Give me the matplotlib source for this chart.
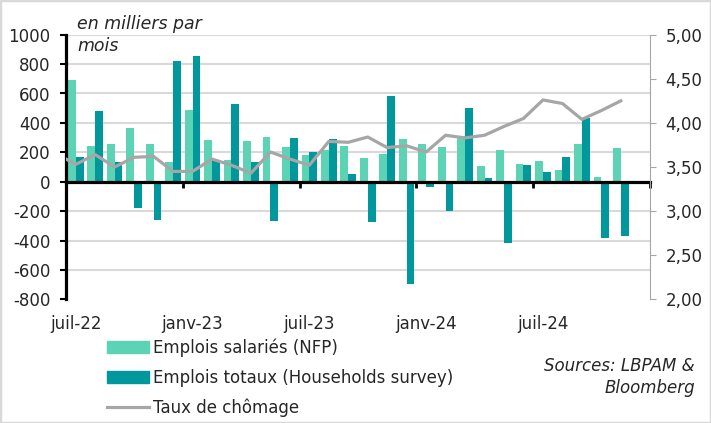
import numpy as np
import matplotlib
matplotlib.use('Agg')
import matplotlib.pyplot as plt
from matplotlib.patches import Rectangle
from matplotlib.lines import Line2D

# mois de juil-22 a dec-24 (le dernier mois est vide)
months = ['juil-22', 'août-22', 'sept-22', 'oct-22', 'nov-22', 'déc-22',
          'janv-23', 'févr-23', 'mars-23', 'avr-23', 'mai-23', 'juin-23',
          'juil-23', 'août-23', 'sept-23', 'oct-23', 'nov-23', 'déc-23',
          'janv-24', 'févr-24', 'mars-24', 'avr-24', 'mai-24', 'juin-24',
          'juil-24', 'août-24', 'sept-24', 'oct-24', 'nov-24', 'déc-24']

# emplois salariés (NFP), milliers
nfp = [690, 245, 259, 362, 259, 136, 485, 286, 149, 280, 307, 239, 184, 216,
       245, 164, 186, 293, 259, 239, 314, 109, 218, 123, 143, 82, 259, 34, 232]

# emplois totaux (households survey), milliers
households = [170, 478, 136, -176, -261, 820, 854, 149, 526, 136, -266, 300,
              205, 291, 55, -277, 586, -693, -35, -198, 498, 27, -420, 116,
              68, 170, 430, -380, -368]

# taux de chomage, commence en juin-22
rate_months = ['juin-22'] + months[:29]
chomage = [3.65, 3.53, 3.64, 3.50, 3.61, 3.62, 3.45, 3.45, 3.59, 3.52, 3.43,
           3.67, 3.59, 3.52, 3.79, 3.78, 3.84, 3.72, 3.74, 3.67, 3.86, 3.83,
           3.86, 3.96, 4.05, 4.26, 4.22, 4.04, 4.14, 4.25]

light = '#5dd3b6'
dark = '#00979d'
grey = '#a6a6a6'
txt = '#262626'

plt.rcParams['font.family'] = ['DejaVu Sans']
plt.rcParams['text.color'] = txt
plt.rcParams['axes.unicode_minus'] = False

W, H = 711, 423
fig = plt.figure(figsize=(W / 100, H / 100), dpi=100)
ax = fig.add_axes([66 / W, 1 - 299.3 / H, (650 - 66) / W, (299.3 - 34.7) / H])
ax2 = ax.twinx()

x = np.arange(len(nfp))
ax.bar(x - 0.2, nfp, 0.4, color=light, zorder=2)
ax.bar(x + 0.2, households, 0.4, color=dark, zorder=2)

ax.set_xlim(-0.5, len(months) - 0.5)
ax.set_ylim(-800, 1000)
ax.set_yticks(range(-800, 1001, 200))
ax.yaxis.grid(True, color='#d9d9d9', lw=1.5, zorder=0)
ax.get_ygridlines()[0].set_visible(False)
ax.set_axisbelow(True)

for s in ['top', 'right']:
    ax.spines[s].set_visible(False)
ax.spines['left'].set_linewidth(2.3)
ax.spines['bottom'].set_position(('data', 0))
ax.spines['bottom'].set_linewidth(2.3)
ax.spines['bottom'].set_zorder(3)

# petits traits tous les 6 mois sur la ligne du zero
ax.set_xticks(np.arange(-0.5, len(months), 6))
ax.tick_params(axis='x', length=4, width=2, direction='out', labelbottom=False)
ax.tick_params(axis='y', length=4.3, width=1.5, color='black', pad=7,
               labelsize=12, labelcolor=txt)

sec = ax.secondary_xaxis('bottom')
sec.set_xticks(x[::6], [months[i] for i in x[::6]])
sec.tick_params(length=0, pad=11, labelsize=12, labelcolor=txt)
sec.spines['bottom'].set_visible(False)

ax2.plot(np.arange(-1, len(chomage) - 1), chomage, color=grey, lw=2.3)
ax2.set_ylim(2, 5)
ax2.set_yticks(np.arange(2, 5.01, 0.5))
ax2.set_yticklabels(['{:.2f}'.format(v).replace('.', ',') for v in np.arange(2, 5.01, 0.5)])
for s in ['top', 'left', 'bottom']:
    ax2.spines[s].set_visible(False)
ax2.spines['right'].set_color(grey)
ax2.spines['right'].set_linewidth(0.8)
ax2.tick_params(axis='y', length=4.3, width=0.8, color=grey, pad=7,
                labelsize=12, labelcolor=txt)

fig.text(77 / W, 1 - 15 / H, 'en milliers par\nmois', style='italic',
         fontsize=12.5, ha='left', va='top', linespacing=1.3)

handles = [Rectangle((0, 0), 1, 1, color=light),
           Rectangle((0, 0), 1, 1, color=dark),
           Line2D([], [], color=grey, lw=2.3)]
labels = ['Emplois salariés (NFP)', 'Emplois totaux (Households survey)',
          'Taux de chômage']
fig.legend(handles, labels, loc='upper left', bbox_to_anchor=(107 / W, 1 - 338 / H),
           frameon=False, fontsize=12, handlelength=2.5, handleheight=0.75,
           handletextpad=0.25, labelspacing=0.72, borderpad=0, borderaxespad=0)

fig.text(695 / W, 1 - 357 / H, 'Sources: LBPAM &\nBloomberg', style='italic',
         fontsize=12, ha='right', va='top', linespacing=1.25)

fig.patches.append(Rectangle((0, 0), 1, 1, transform=fig.transFigure, fill=False,
                             ec='#d9d9d9', lw=2.5))

fig.savefig('out.png', dpi=100)
